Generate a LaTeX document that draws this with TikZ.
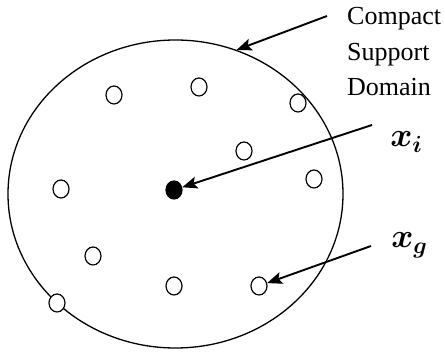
\documentclass[tikz,border=0pt]{standalone}
\usepackage{amsmath}
\usepackage{fontspec}
\setmainfont{Liberation Serif}
\usetikzlibrary{arrows.meta,shapes.geometric}
\begin{document}
\begin{tikzpicture}[x=1pt,y=-1pt,
  pt/.style={draw, ellipse, line width=1.2pt, minimum width=16pt, minimum height=18pt, inner sep=0pt},
  arr/.style={line width=1.9pt, -{Stealth[length=15pt,width=12pt,inset=3pt]}},
  lbl/.style={anchor=base west, inner sep=0pt, font=\fontsize{26}{32}\selectfont},
  mlbl/.style={anchor=base west, inner sep=0pt, scale=1.35, font=\fontsize{24}{30}\selectfont}]
\useasboundingbox (0,0) rectangle (445,352);
\node[draw, ellipse, line width=1.3pt, minimum width=335pt, minimum height=308pt, inner sep=0pt] (dom) at (175.5,194) {};
\node[pt] (p1) at (114,95) {};
\node[pt] (p2) at (199,87) {};
\node[pt] (p3) at (298,103) {};
\node[pt] (p4) at (244,151) {};
\node[pt] (p5) at (314,179) {};
\node[pt] (p6) at (61,189) {};
\node[pt] (p7) at (93,256) {};
\node[pt] (p8) at (174,286) {};
\node[pt, fill=white] (xg) at (259,286) {};
\node[pt, fill=white] (p9) at (57,303) {};
\node[pt, fill=black] (xi) at (174,190) {};
\node[lbl] (t1) at (347,25) {Compact};
\node[lbl] (t2) at (347,60.5) {Support};
\node[lbl] (t3) at (347,96) {Domain};
\node[mlbl] (lxi) at (390,147) {$\boldsymbol{x_{i}}$};
\node[mlbl] (lxg) at (391,248) {$\boldsymbol{x_{g}}$};
\coordinate (cs) at (327,16);
\coordinate (ci) at (372,125);
\coordinate (cg) at (371,246);
\draw[arr] (cs) -- (dom.67);
\draw[arr] (ci) -- (xi);
\draw[arr] (cg) -- (xg);
\end{tikzpicture}
\end{document}
